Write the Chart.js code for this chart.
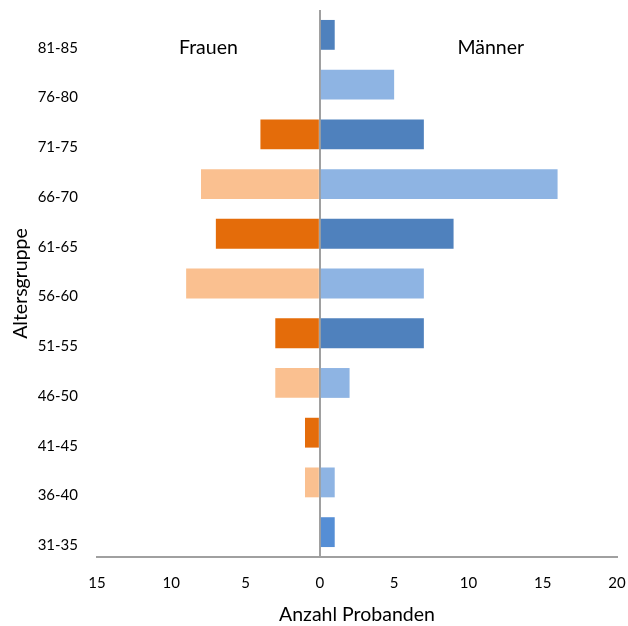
<!DOCTYPE html>
<html>
<head>
<meta charset="utf-8">
<script src="https://cdn.jsdelivr.net/npm/chart.js@4/dist/chart.umd.min.js"></script>
<style>
  html, body { margin: 0; padding: 0; background: #fff; overflow: hidden; }
  #wrap { width: 628px; height: 626px; position: relative; }
</style>
</head>
<body>
<div id="wrap"><canvas id="pyramide"></canvas></div>
<script>
const altersgruppen = ['81-85', '76-80', '71-75', '66-70', '61-65', '56-60', '51-55', '46-50', '41-45', '36-40', '31-35'];
const frauen = [0, 0, 4, 8, 7, 9, 3, 3, 1, 1, 0];
const maenner = [1, 5, 7, 16, 9, 7, 7, 2, 0, 1, 1];
const xTicks = [-15, -10, -5, 0, 5, 10, 15, 20];

// alternating dark / light shades per age group (youngest group a brighter blue)
const orange = altersgruppen.map((_, i) => i % 2 === 0 ? '#E46C0A' : '#FAC090');
const blau = altersgruppen.map((_, i) =>
  i === altersgruppen.length - 1 ? '#558ED5' : (i % 2 === 0 ? '#4F81BD' : '#8EB4E3'));

const FONT = 'Lato, "Open Sans", sans-serif';

// group captions above the bars
const seitenTitel = {
  id: 'seitenTitel',
  afterDraw(chart) {
    const { ctx, scales } = chart;
    const y = scales.y.getPixelForValue(0) + 13;
    ctx.save();
    ctx.font = '19.5px ' + FONT;
    ctx.fillStyle = '#000';
    ctx.textAlign = 'center';
    ctx.textBaseline = 'middle';
    ctx.fillText('Frauen', scales.x.getPixelForValue(-7.5), y);
    ctx.fillText('Männer', scales.x.getPixelForValue(11.5), y);
    ctx.restore();
  }
};

new Chart(document.getElementById('pyramide'), {
  type: 'bar',
  data: {
    labels: altersgruppen,
    datasets: [
      {
        label: 'Frauen',
        data: frauen.map(v => -v),
        backgroundColor: orange,
        borderWidth: 0
      },
      {
        label: 'Männer',
        data: maenner,
        backgroundColor: blau,
        borderWidth: 0
      }
    ]
  },
  options: {
    indexAxis: 'y',
    responsive: true,
    maintainAspectRatio: false,
    animation: false,
    categoryPercentage: 0.6,
    barPercentage: 1,
    layout: { padding: { top: 0, right: 0, bottom: 0, left: 9 } },
    scales: {
      x: {
        stacked: true,
        min: -15,
        max: 20,
        z: 1,
        afterBuildTicks: axis => { axis.ticks = xTicks.map(v => ({ value: v })); },
        afterFit: axis => {
          axis.height = 69;
          axis.paddingRight = 11;
        },
        ticks: {
          callback: value => Math.abs(value),
          color: '#000',
          font: { family: FONT, size: 15 },
          padding: 17,
          maxRotation: 0,
          minRotation: 0
        },
        grid: {
          drawTicks: false,
          lineWidth: 2,
          color: ctx => ctx.tick && ctx.tick.value === 0 ? '#a0a0a0' : 'transparent'
        },
        border: { display: true, color: '#a0a0a0', width: 2 },
        title: {
          display: true,
          text: 'Anzahl Probanden',
          color: '#000',
          font: { family: FONT, size: 19.5 },
          padding: { top: 0, bottom: 0 }
        }
      },
      y: {
        stacked: true,
        afterFit: axis => {
          axis.width = 88;
          axis.paddingTop = 10;
          axis.paddingBottom = 0;
        },
        grid: { display: false },
        border: { display: false },
        ticks: {
          color: '#000',
          font: { family: FONT, size: 15 },
          labelOffset: 13,
          padding: 11
        },
        title: {
          display: true,
          text: 'Altersgruppe',
          color: '#000',
          font: { family: FONT, size: 19.5 },
          padding: { top: 0, bottom: 2 }
        }
      }
    },
    plugins: {
      legend: { display: false },
      tooltip: {
        callbacks: {
          label: ctx => `${ctx.dataset.label}: ${Math.abs(ctx.parsed.x)}`
        }
      }
    }
  },
  plugins: [seitenTitel]
});
</script>
</body>
</html>
